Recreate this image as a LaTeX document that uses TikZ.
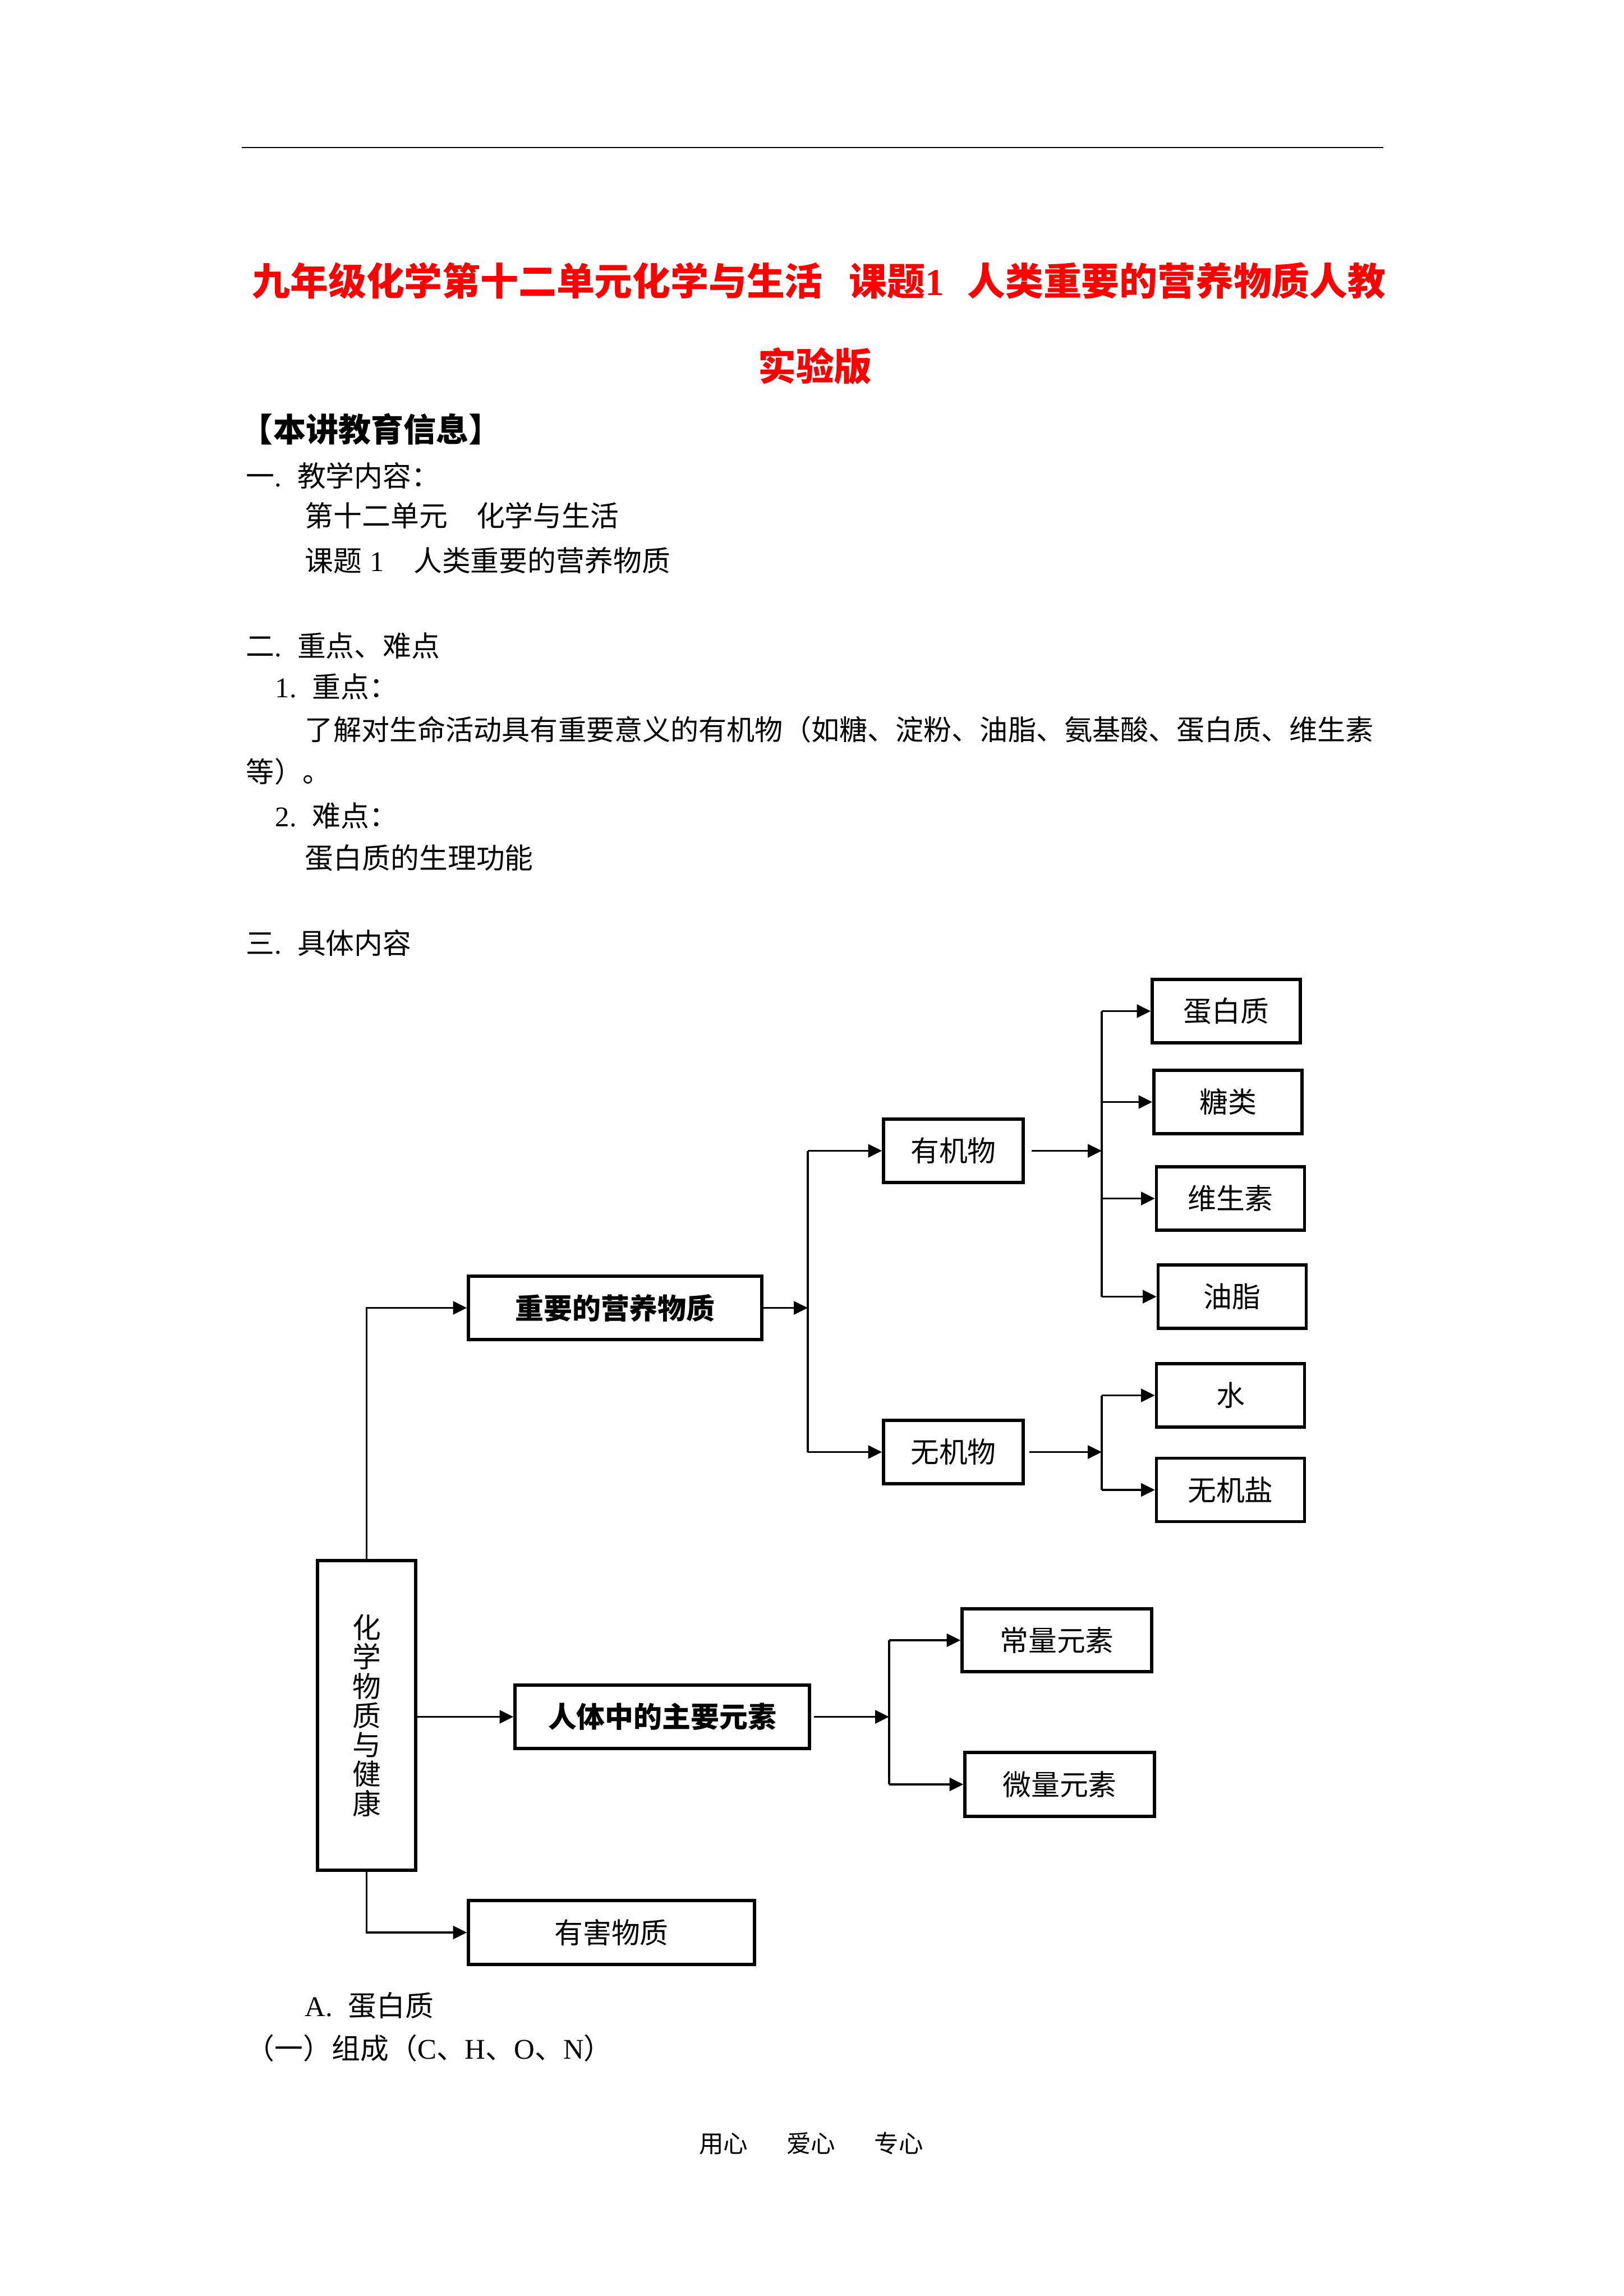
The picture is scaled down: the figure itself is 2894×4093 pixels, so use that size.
\documentclass[tikz,border=0pt]{standalone}
\usepackage{fontspec}
\setmainfont{Noto Sans CJK SC}
\newfontfamily\latin{Liberation Serif}
\usepackage{xcolor}
\usepackage{tikz}
\usetikzlibrary{arrows.meta}
\definecolor{titlered}{RGB}{255,0,0}
\newcommand{\pxu}{0.072564mm}

\begin{document}
\begin{tikzpicture}[
    x=\pxu, y=-\pxu,
    every node/.style={inner sep=0pt},
    body/.style={
        anchor=west,
        font=\fontsize{10.5}{12}\selectfont
    },
    head/.style={
        font=\fontsize{14}{16}\selectfont\bfseries,
        text=titlered
    },
    box/.style={
        draw,
        line width=1.1pt,
        align=center,
        font=\fontsize{10.5}{12}\selectfont
    },
    leaf/.style={box, minimum width=264*\pxu, minimum height=113*\pxu},
    mid/.style={box, minimum width=249*\pxu, minimum height=113*\pxu},
    bus/.style={line width=0.8pt},
    link/.style={-{Triangle[length=1.8mm, width=1.7mm]}, line width=0.8pt}
]
\useasboundingbox (0,0) rectangle (2894,4093);

\draw[line width=0.6pt] (431,263) -- (2466,263);
\node[head] (title1) at (1460,501) {九年级化学第十二单元化学与生活\hspace{3.4mm}课题{\latin 1}\hspace{3mm}人类重要的营养物质人教};
\node[head] (title2) at (1453,653) {实验版};

\node[body, font=\fontsize{12}{14}\selectfont\bfseries] (info) at (428,765) {【本讲教育信息】};
\node[body] (sec1) at (438,848) {一{\latin .}\hspace{2mm}教学内容：};
\node[body] (unit) at (543,919) {第十二单元　化学与生活};
\node[body] (topic) at (543,999) {课题\hspace{1mm}{\latin 1}\hspace{3.8mm}人类重要的营养物质};
\node[body] (sec2) at (438,1151) {二{\latin .}\hspace{2mm}重点、难点};
\node[body] (key) at (490,1224) {{\latin 1.}\hspace{2mm}重点：};
\node[body, font=\fontsize{10.35}{12}\selectfont] (keytext) at (543,1300) {了解对生命活动具有重要意义的有机物（如糖、淀粉、油脂、氨基酸、蛋白质、维生素};
\node[body, font=\fontsize{10.35}{12}\selectfont] (keyend) at (438,1375) {等）。};
\node[body] (hard) at (490,1454) {{\latin 2.}\hspace{2mm}难点：};
\node[body] (hardtext) at (543,1529) {蛋白质的生理功能};
\node[body] (sec3) at (438,1681) {三{\latin .}\hspace{2mm}具体内容};

\node[leaf] (dbz) at (2186,1802.5) {蛋白质};
\node[leaf] (tang) at (2189,1964.5) {糖类};
\node[leaf] (wss) at (2193.5,2136.5) {维生素};
\node[leaf] (yz) at (2196.5,2311.5) {油脂};
\node[mid] (yjw) at (1699.5,2051.5) {有机物};
\node[box, minimum width=523*\pxu, minimum height=113*\pxu, font=\fontsize{10.5}{12}\selectfont\bfseries] (yyw) at (1096.5,2331.5) {重要的营养物质};
\node[leaf] (shui) at (2193.5,2487.5) {水};
\node[leaf] (wjy) at (2193.5,2656) {无机盐};
\node[mid] (wjw) at (1699.5,2588.5) {无机物};
\node[box, minimum width=175*\pxu, minimum height=552*\pxu, font=\fontsize{10.5}{10.8}\selectfont] (root) at (653.5,3058) {化\\学\\物\\质\\与\\健\\康};
\node[box, minimum width=525*\pxu, minimum height=113*\pxu, font=\fontsize{10.5}{12}\selectfont\bfseries] (ys) at (1180.5,3060.5) {人体中的主要元素};
\node[box, minimum width=338*\pxu, minimum height=112*\pxu] (cl) at (1884,2924) {常量元素};
\node[box, minimum width=338*\pxu, minimum height=114*\pxu] (wl) at (1889,3181) {微量元素};
\node[box, minimum width=510*\pxu, minimum height=114*\pxu] (yh) at (1090,3445) {有害物质};

\coordinate (nutbus) at (1440,2331.5);
\coordinate (orgbus) at (1964,2051.5);
\coordinate (inbus) at (1964,2588.5);
\coordinate (elbus) at (1585,3060.5);

\draw[link] (root.north) |- (yyw.west);
\draw[link] (yyw.east) -- (nutbus);
\draw[bus] (nutbus |- yjw.west) -- (nutbus |- wjw.west);
\draw[link] (nutbus |- yjw.west) -- (yjw.west);
\draw[link] (nutbus |- wjw.west) -- (wjw.west);

\draw[link, shorten <=0.9mm] (yjw.east) -- (orgbus);
\draw[bus] (orgbus |- dbz.west) -- (orgbus |- yz.west);
\draw[link] (orgbus |- dbz.west) -- (dbz.west);
\draw[link] (orgbus |- tang.west) -- (tang.west);
\draw[link] (orgbus |- wss.west) -- (wss.west);
\draw[link] (orgbus |- yz.west) -- (yz.west);

\draw[link, shorten <=0.6mm] (wjw.east) -- (inbus);
\draw[bus] (inbus |- shui.west) -- (inbus |- wjy.west);
\draw[link] (inbus |- shui.west) -- (shui.west);
\draw[link] (inbus |- wjy.west) -- (wjy.west);

\draw[link] (root.east |- ys.west) -- (ys.west);
\draw[link, shorten <=0.4mm] (ys.east) -- (elbus);
\draw[bus] (elbus |- cl.west) -- (elbus |- wl.west);
\draw[link] (elbus |- cl.west) -- (cl.west);
\draw[link] (elbus |- wl.west) -- (wl.west);

\draw[link] (root.south) |- (yh.west);

\node[body] (protein) at (543,3575) {{\latin A.}\hspace{2mm}蛋白质};
\node[body] (comp) at (438,3651) {（一）组成（{\latin C}、{\latin H}、{\latin O}、{\latin N}）};
\node[font=\fontsize{9}{11}\selectfont] (foot) at (1446,3821) {用心\hspace{5mm}爱心\hspace{5mm}专心};
\end{tikzpicture}
\end{document}
